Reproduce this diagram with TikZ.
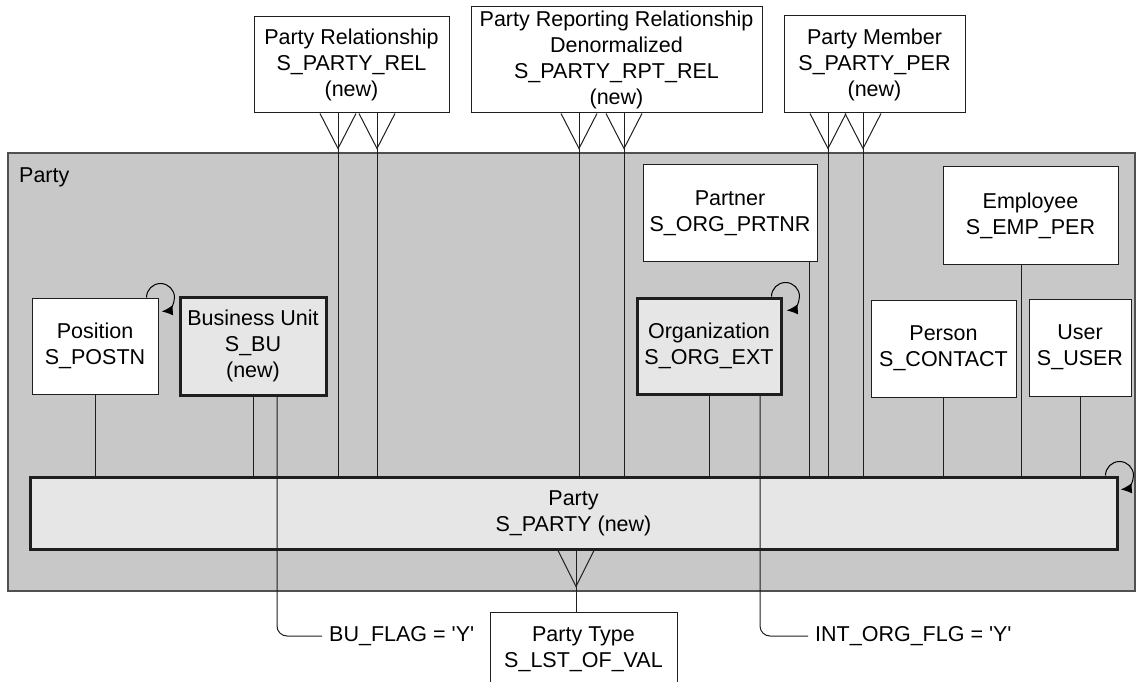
\documentclass[tikz,border=0pt]{standalone}
\usepackage{fontspec}
\setmainfont{Liberation Sans}
\usepackage{tikz}
\usetikzlibrary{arrows.meta, calc}
\definecolor{areaGray}{RGB}{200, 200, 200}
\definecolor{areaEdge}{RGB}{80, 80, 80}
\definecolor{entityGray}{RGB}{230, 230, 230}
\definecolor{linkBlack}{RGB}{30, 30, 30}

\begin{document}
\begin{tikzpicture}[
  x=1pt, y=-1pt,
  area/.style={rectangle, draw=areaEdge, fill=areaGray, line width=1.5pt, minimum width=1127pt, minimum height=438pt, inner sep=0pt},
  entity/.style={rectangle, draw=linkBlack, fill=white, line width=1pt, align=center, inner sep=1pt, font=\fontsize{21.5pt}{26pt}\selectfont},
  core/.style={entity, fill=entityGray, line width=3pt},
  caption/.style={inner xsep=7pt, inner ysep=2pt, font=\fontsize{21.5pt}{26pt}\selectfont},
  link/.style={draw=linkBlack, line width=1pt},
  selfref/.style={draw=black, line width=1pt, -{Latex[length=11pt, width=10pt]}}
]
  \clip (0,0) rectangle (1136,682);

  % Party area
  \node[area] (partyarea) at (571.5,372) {};
  \node[caption, anchor=west, inner xsep=2pt] (arealbl) at (17,177) {Party};

  % Tables above the area
  \node[entity, minimum width=195pt, minimum height=96pt] (prel) at (351.5,65) {Party Relationship\\S\_PARTY\_REL\\(new)};
  \node[entity, minimum width=291pt, minimum height=106pt] (prpt) at (616.5,60) {Party Reporting Relationship\\Denormalized\\S\_PARTY\_RPT\_REL\\(new)};
  \node[entity, minimum width=181pt, minimum height=97pt] (pmem) at (874.5,64.5) {Party Member\\S\_PARTY\_PER\\(new)};

  % Tables inside the area
  \node[entity, minimum width=126pt, minimum height=96pt] (postn) at (95,346) {Position\\S\_POSTN};
  \node[core, minimum width=146pt, minimum height=98pt] (bu) at (253,346) {Business Unit\\S\_BU\\(new)};
  \node[entity, minimum width=174pt, minimum height=96pt] (prtnr) at (730,213) {Partner\\S\_ORG\_PRTNR};
  \node[core, minimum width=144pt, minimum height=96pt] (org) at (709,346) {Organization\\S\_ORG\_EXT};
  \node[entity, minimum width=175pt, minimum height=97pt] (emp) at (1030.5,215.5) {Employee\\S\_EMP\_PER};
  \node[entity, minimum width=145pt, minimum height=97pt] (person) at (943.5,348.5) {Person\\S\_CONTACT};
  \node[entity, minimum width=102pt, minimum height=97pt] (user) at (1080,347.5) {User\\S\_USER};
  \node[core, minimum width=1087pt, minimum height=72pt] (party) at (573.5,513) {Party\\S\_PARTY (new)};

  % Table below the area
  \node[entity, minimum width=187pt, minimum height=96pt] (ptype) at (583.5,660) {Party Type\\S\_LST\_OF\_VAL\\\mbox{}};

  % Flag labels
  \node[caption, anchor=west] (buflag) at (322,636) {BU\_FLAG = \textquotesingle Y\textquotesingle};
  \node[caption, anchor=west] (orgflag) at (808,636) {INT\_ORG\_FLG = \textquotesingle Y\textquotesingle};

  % One-to-many links from the tables above
  \foreach \src/\dx in {prel/-13.5, prel/25.5, prpt/-37.5, prpt/7.5, pmem/-46.5, pmem/-11.5} {
    \draw[link] ($(\src.south)+(\dx,0)$) coordinate (tmp) -- (tmp |- party.north);
    \draw[link] ($(\src.south)+(\dx-18,0)$) -- ($(\src.south)+(\dx,35)$) -- ($(\src.south)+(\dx+18,0)$);
  }

  % Links from the tables inside the area
  \foreach \src/\dx in {postn/0, bu/0, org/0, prtnr/79, emp/-9.5, person/0, user/0} {
    \draw[link] ($(\src.south)+(\dx,0)$) coordinate (tmp) -- (tmp |- party.north);
  }

  % Flag links
  \draw[link, rounded corners=10pt] ($(bu.south)+(24,0)$) |- (buflag.west);
  \draw[link, rounded corners=10pt] ($(org.south)+(51,0)$) |- (orgflag.west);

  % Party type link
  \draw[link] ($(ptype.north)+(-7.5,0)$) coordinate (pt) -- (pt |- party.south);
  \draw[link] ($(pt |- party.south)+(-18,0)$) -- ($(pt |- party.south)+(0,36)$) -- ($(pt |- party.south)+(18,0)$);

  % Self references
  \draw[selfref] ($(postn.north east)+(-12,0)$) arc[start angle=180, end angle=445, radius=14];
  \draw[selfref] ($(org.north east)+(-11,0)$) arc[start angle=180, end angle=445, radius=14];
  \draw[selfref] ($(party.north east)+(-13,0)$) arc[start angle=180, end angle=445, radius=14];

\end{tikzpicture}
\end{document}
